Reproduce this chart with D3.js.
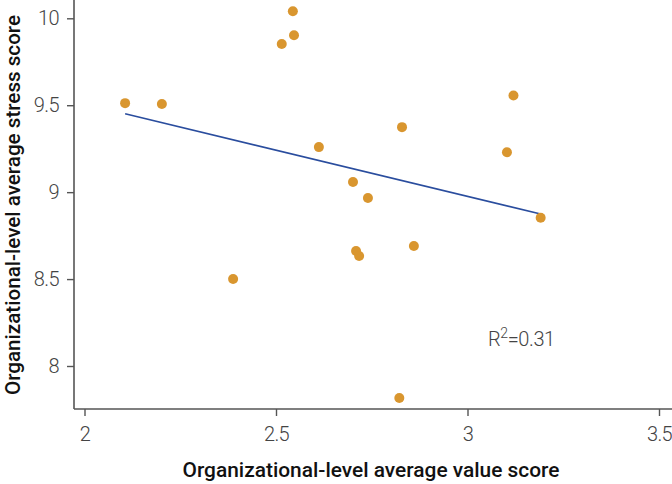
<!DOCTYPE html>
<html>
<head>
<meta charset="utf-8">
<script src="https://cdn.jsdelivr.net/npm/d3@7/dist/d3.min.js"></script>
<style>
  html, body { margin: 0; padding: 0; background: #fff; }
  svg { display: block; }
</style>
</head>
<body>
<svg id="chart" width="672" height="484"></svg>
<script>
// ---- data ----
const valueScore  = [2.106, 2.202, 2.544, 2.515, 2.547, 2.388, 2.612, 2.701, 2.740, 2.709, 2.717, 2.829, 2.860, 3.120, 3.103, 3.191, 2.822];
const stressScore = [9.512, 9.507, 10.041, 9.852, 9.903, 8.500, 9.259, 9.058, 8.966, 8.661, 8.633, 9.374, 8.690, 9.556, 9.230, 8.853, 7.816];
const trendX = [2.106, 3.191];
const trendY = [9.451, 8.874];
const xTicks = [2, 2.5, 3, 3.5];
const yTicks = [8, 8.5, 9, 9.5, 10];
const xTitle = "Organizational-level average value score";
const yTitle = "Organizational-level average stress score";
const r2Value = "0.31";

const svg = d3.select("#chart");
const W = 672, H = 484;
const x0 = 74, yAxisPos = 409;

const x = d3.scaleLinear().domain([2, 3]).range([84.5, 467.5]);
const y = d3.scaleLinear().domain([8, 10]).range([366, 18.3]);

const axisColor = "#555";
const tickFont = "Roboto, 'Open Sans', sans-serif";

// X axis
const xAxis = svg.append("g").attr("transform", `translate(0,${yAxisPos})`)
  .call(d3.axisBottom(x).tickValues(xTicks).tickFormat(d3.format("")).tickSize(7).tickPadding(11));
xAxis.select(".domain").attr("d", `M${x0},0H${W}`);
// Y axis
const yAxis = svg.append("g").attr("transform", `translate(${x0},0)`)
  .call(d3.axisLeft(y).tickValues(yTicks).tickFormat(d3.format("")).tickSize(7).tickPadding(8));
yAxis.select(".domain").attr("d", `M0,0V${yAxisPos}`);

[xAxis, yAxis].forEach(g => {
  g.select(".domain").attr("stroke", axisColor).attr("stroke-width", 1.6);
  g.selectAll(".tick line").attr("stroke", axisColor).attr("stroke-width", 1.4);
  g.selectAll(".tick text")
    .attr("fill", "#444")
    .style("font-family", tickFont)
    .style("font-weight", 300)
    .style("font-size", "20px")
    .style("letter-spacing", "-0.6px");
});

// trend line
svg.append("line")
  .attr("x1", x(trendX[0])).attr("y1", y(trendY[0]))
  .attr("x2", x(trendX[1])).attr("y2", y(trendY[1]))
  .attr("stroke", "#2a4d9e").attr("stroke-width", 1.6);

// points
svg.append("g").selectAll("circle")
  .data(valueScore.map((v, i) => [v, stressScore[i]]))
  .join("circle")
  .attr("cx", d => x(d[0])).attr("cy", d => y(d[1]))
  .attr("r", 5)
  .attr("fill", "#d9962f");

// R^2 label
const r2 = svg.append("text")
  .attr("x", 488).attr("y", 346)
  .attr("fill", "#444")
  .style("font-family", tickFont)
  .style("font-weight", 300)
  .style("font-size", "20px")
  .style("letter-spacing", "-0.4px");
r2.append("tspan").text("R");
r2.append("tspan").attr("dy", -8).style("font-size", "14px").text("2");
r2.append("tspan").attr("dy", 8).text("=" + r2Value);

// axis titles
svg.append("text")
  .attr("x", 371).attr("y", 477)
  .attr("text-anchor", "middle")
  .attr("textLength", 377).attr("lengthAdjust", "spacingAndGlyphs")
  .style("font-family", "Roboto, sans-serif")
  .style("font-weight", 500)
  .style("font-size", "20px")
  .attr("fill", "#111")
  .text(xTitle);

svg.append("text")
  .attr("transform", `translate(20,205) rotate(-90)`)
  .attr("text-anchor", "middle")
  .attr("textLength", 380).attr("lengthAdjust", "spacingAndGlyphs")
  .style("font-family", "Roboto, sans-serif")
  .style("font-weight", 500)
  .style("font-size", "20px")
  .attr("fill", "#111")
  .text(yTitle);
</script>
</body>
</html>
